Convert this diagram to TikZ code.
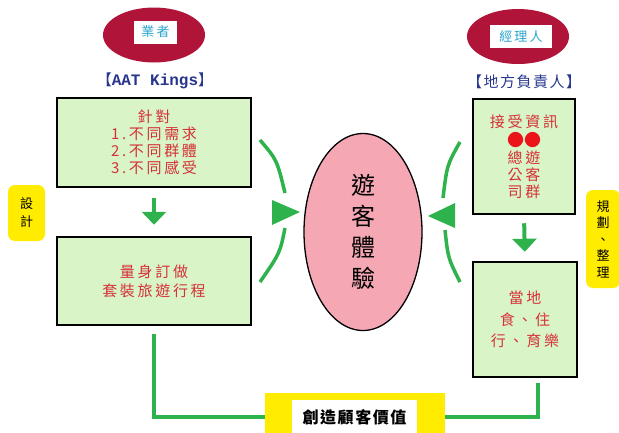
\documentclass[tikz,border=0pt]{standalone}
\usepackage{fontspec}
\setmainfont{Noto Sans CJK TC}
\newfontfamily\espace[LetterSpace=18]{Noto Sans CJK TC}
\newfontfamily\espacefin[LetterSpace=10]{Noto Sans CJK TC}
\newfontfamily\mono{Liberation Mono}
\usetikzlibrary{shapes.geometric,arrows.meta}

\definecolor{vertclair}{RGB}{217,245,200}
\definecolor{vert}{RGB}{46,178,76}
\definecolor{rouge}{RGB}{214,48,56}
\definecolor{rougevif}{RGB}{235,20,25}
\definecolor{bordeaux}{RGB}{176,20,56}
\definecolor{rose}{RGB}{245,168,180}
\definecolor{jaune}{RGB}{255,236,0}
\definecolor{bleuclair}{RGB}{40,165,205}
\definecolor{marine}{RGB}{40,55,140}

\begin{document}
\begin{tikzpicture}
  [x=1pt, y=-1pt]
  \tikzset{
    bloc/.style={
      rectangle,
      draw=black, line width=2.5pt,
      fill=vertclair, text=rouge,
      align=center, inner sep=0pt,
      font=\espace\fontsize{15}{17}\selectfont,
    },
    acteur/.style={
      ellipse, fill=bordeaux,
      minimum width=102pt, minimum height=55pt,
      inner sep=0pt,
    },
    nom/.style={
      rectangle, fill=white, text=bleuclair,
      minimum height=23pt, inner sep=0pt,
      font=\fontsize{13}{15}\selectfont,
    },
    titre/.style={
      text=marine, inner sep=0pt,
      font=\espacefin\fontsize{15}{16}\selectfont,
    },
    etiquette/.style={
      rectangle, rounded corners=7pt,
      fill=jaune, align=center, inner sep=0pt,
      font=\fontsize{13}{18}\selectfont,
    },
    fleche/.style={-{Triangle[width=24pt,length=13pt]}, draw=vert, line width=4pt},
    lien/.style={draw=vert, line width=4pt},
  }

  \useasboundingbox (0,0) rectangle (619,432);

  \node[acteur] (ope) at (154,35) {};
  \node[nom, minimum width=43pt] (openom) at (155.5,32) {業\,者};
  \node[titre] (opetitre) at (155,81) {【{\mono\bfseries\fontsize{16}{16}\selectfont AAT Kings}】};

  \node[acteur] (resp) at (518,36.5) {};
  \node[nom, minimum width=62pt] (respnom) at (521,36.5) {經\,理\,人};
  \node[titre] (resptitre) at (524,82) {【地方負責人】};

  \node[bloc, minimum width=194pt, minimum height=89pt] (besoin) at (154,142.5)
    {針對\\1.不同需求\\2.不同群體\\3.不同感受};
  \node[bloc, minimum width=194pt, minimum height=88pt] (circuit) at (154,281)
    {量身訂做\\[2pt]套裝旅遊行程};
  \node[bloc, minimum width=102pt, minimum height=115pt] (info) at (524,156.5)
    {接受資訊\\[2pt]{\color{rougevif}\mdseries\addfontfeatures{LetterSpace=0}\fontsize{17}{17}\selectfont ●●}\\總遊\\公客\\司群};
  \node[bloc, minimum width=104pt, minimum height=115pt,
    font=\espace\fontsize{15}{21.5}\selectfont] (local) at (525,319.5)
    {當地\\食、住\\行、育樂};

  \node[ellipse, draw=black, line width=1.3pt, fill=rose,
    minimum width=118pt, minimum height=197pt, align=center,
    font=\fontsize{24}{31}\selectfont] (exp) at (363,232) {遊\\客\\體\\驗};

  \node[etiquette, minimum width=37pt, minimum height=56pt] (design) at (26.5,213) {設\\計};
  \node[etiquette, minimum width=34pt, minimum height=98pt,
    font=\fontsize{13}{16.5}\selectfont] (plan) at (603,239) {規\\劃\\、\\整\\理};

  \node[rectangle, fill=jaune, minimum width=180pt, minimum height=48pt] (valeur) at (355,417) {};
  \node[rectangle, fill=white, minimum width=125pt, minimum height=34pt,
    font=\espacefin\bfseries\fontsize{16}{17}\selectfont] (valeurtxt) at (354.5,417) {創造顧客價值};

  \draw[fleche, shorten <=10pt, shorten >=11pt] (besoin.south) -- (circuit.north);
  \draw[fleche, shorten <=8pt, shorten >=9pt] (info.south) -- (local.north);
  \draw[lien, shorten <=8pt] (circuit.south) |- (valeur.west);
  \draw[lien, shorten <=5pt] ([xshift=13pt]local.south) |- (valeur.east);

  \draw[lien, line width=3.5pt] (260,140) .. controls (277,160) .. (285,193);
  \draw[lien, line width=3.5pt] (285,228) .. controls (280,253) .. (260,282);
  \fill[vert] (272,200) -- (300,212) -- (272,225) -- cycle;
  \draw[lien, line width=3.5pt] (460,142) .. controls (447,165) .. (443,198);
  \draw[lien, line width=3.5pt] (445,230) .. controls (448,258) .. (460,282);
  \fill[vert] (455,203) -- (428,216) -- (455,228) -- cycle;
\end{tikzpicture}
\end{document}
